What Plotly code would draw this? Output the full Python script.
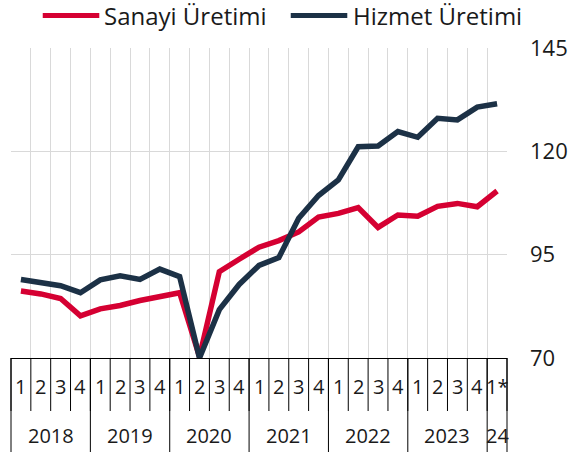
import plotly.graph_objects as go

quarter_labels = ["1", "2", "3", "4"] * 6 + ["1*"]
year_labels = ["2018", "2019", "2020", "2021", "2022", "2023", "24"]
year_counts = [4, 4, 4, 4, 4, 4, 1]

sanayi = [86.2, 85.5, 84.4, 80.2, 81.9, 82.7, 83.9, 85.0, 85.8, 70.3, 90.9, 93.9,
          96.8, 98.4, 100.5, 104.1, 105.0, 106.4, 101.6, 104.6, 104.3, 106.7, 107.4,
          106.6, 110.4]
hizmet = [89.0, 88.1, 87.5, 85.8, 88.9, 89.9, 89.0, 91.5, 89.7, 70.0, 81.7, 87.8,
          92.4, 94.3, 103.8, 109.3, 113.1, 121.1, 121.3, 124.8, 123.4, 128.0, 127.6,
          130.7, 131.5]
series_names = ["Sanayi Üretimi", "Hizmet Üretimi"]
y_ticks = [70, 95, 120, 145]

RED = "#d50032"
NAVY = "#1c3146"
FONT = "Open Sans"

n = len(quarter_labels)
x = list(range(n))

W, H = 579, 452
ml, mt = 11, 48
pr, pb = 511, 358  # plot right / bottom in px
mr, mb = W - pr, H - pb
pw, ph = pr - ml, pb - mt

def py(Y):  # pixel Y -> paper y
    return (pb - Y) / ph

def pxx(X):  # pixel X -> paper x
    return (X - ml) / pw

fig = go.Figure()
for name, vals, col in zip(series_names, [sanayi, hizmet], [RED, NAVY]):
    fig.add_trace(go.Scatter(x=x, y=vals, mode="lines", name=name,
                             line=dict(color=col, width=5.5),
                             showlegend=False, hoverinfo="skip"))

shapes = []
annotations = []
# quarter labels and short separators
for i, q in enumerate(quarter_labels):
    annotations.append(dict(x=i, y=py(386), xref="x", yref="paper", text=q,
                            showarrow=False, font=dict(size=20, color="#1a1a1a"),
                            xanchor="center", yanchor="middle"))
for b in range(n + 1):
    shapes.append(dict(type="line", xref="paper", yref="paper",
                       x0=b / n, x1=b / n, y0=0, y1=py(411),
                       line=dict(color="#000000", width=1)))
# year labels and long separators
start = 0
bounds = [0]
for lab, c in zip(year_labels, year_counts):
    center = start + (c - 1) / 2
    annotations.append(dict(x=center, y=py(436), xref="x", yref="paper", text=lab,
                            showarrow=False, font=dict(size=20, color="#1a1a1a"),
                            xanchor="center", yanchor="middle"))
    start += c
    bounds.append(start)
for b in bounds:
    shapes.append(dict(type="line", xref="paper", yref="paper",
                       x0=b / n, x1=b / n, y0=0, y1=py(454),
                       line=dict(color="#000000", width=1)))

# manual legend
leg = [(43, 100, 103, RED, series_names[0]), (293, 350, 354, NAVY, series_names[1])]
for x0, x1, xt, col, name in leg:
    shapes.append(dict(type="line", xref="paper", yref="paper",
                       x0=pxx(x0), x1=pxx(x1), y0=py(15.5), y1=py(15.5),
                       line=dict(color=col, width=5)))
    annotations.append(dict(x=pxx(xt), y=py(16), xref="paper", yref="paper",
                            text=name, showarrow=False, xanchor="left", yanchor="middle",
                            font=dict(size=24, color="#1a1a1a")))

fig.update_layout(
    width=W, height=H,
    margin=dict(l=ml, r=mr, t=mt, b=mb),
    paper_bgcolor="white", plot_bgcolor="white",
    font=dict(family=FONT, color="#1a1a1a"),
    showlegend=False, hovermode=False,
    shapes=shapes, annotations=annotations,
    xaxis=dict(range=[-0.5, n - 0.5], tickvals=[i - 0.5 for i in range(n + 1)],
               showticklabels=False, showgrid=True, gridcolor="#d9d9d9", gridwidth=1,
               zeroline=False, showline=True, linecolor="#000000", linewidth=1,
               ticks=""),
    yaxis=dict(range=[70, 145], tickvals=y_ticks, side="right", showgrid=True,
               gridcolor="#d9d9d9", gridwidth=1, zeroline=False, showline=False,
               ticks="", ticklabelstandoff=22,
               tickfont=dict(size=22, color="#1a1a1a")),
)

fig.write_html("out.html", config={"displayModeBar": False},
               post_script="document.body.style.margin='0';document.body.style.overflow='hidden';")
